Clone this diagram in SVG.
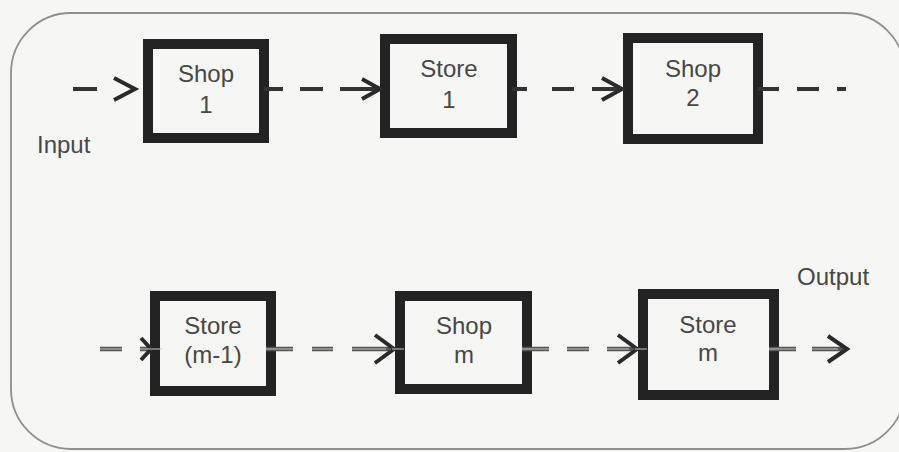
<svg xmlns="http://www.w3.org/2000/svg" width="899" height="452" viewBox="0 0 899 452">
<style>
.box{fill:none;stroke:#232323;stroke-width:10}
.t{font-family:"Liberation Sans",Arial,sans-serif;font-size:24px;fill:#474747;text-anchor:middle}
.lbl{font-family:"Liberation Sans",Arial,sans-serif;font-size:24px;fill:#474747}
.c{fill:none;stroke:#333;stroke-width:4}
.c2{fill:none;stroke:#555;stroke-width:4.5}
.hl{fill:none;stroke:#c8c8c8;stroke-width:1.1}
.ah{fill:none;stroke:#2a2a2a;stroke-width:4;stroke-linejoin:miter;stroke-linecap:butt}
</style>
<rect width="899" height="452" fill="#f6f6f5"/>
<rect x="11" y="13" width="894" height="436" rx="60" ry="60" fill="none" stroke="#8f8f8f" stroke-width="1.8"/>
<g id="shop1"><rect class="box" x="148" y="44" width="116" height="94"/><text class="t" x="206" y="82">Shop</text><text class="t" x="206" y="113">1</text></g>
<g id="store1"><rect class="box" x="385" y="39" width="127" height="94"/><text class="t" x="449" y="77">Store</text><text class="t" x="449" y="108">1</text></g>
<g id="shop2"><rect class="box" x="628" y="38" width="130" height="101"/><text class="t" x="693" y="77">Shop</text><text class="t" x="693" y="106">2</text></g>
<g id="storem1"><rect class="box" x="155" y="296" width="116" height="95"/><text class="t" x="213" y="334">Store</text><text class="t" x="213" y="363">(m-1)</text></g>
<g id="shopm"><rect class="box" x="400" y="296" width="127" height="93"/><text class="t" x="464" y="334">Shop</text><text class="t" x="464" y="363">m</text></g>
<g id="storem"><rect class="box" x="643" y="294" width="131" height="101"/><text class="t" x="708" y="333">Store</text><text class="t" x="708" y="361">m</text></g>
<g id="labels"><text class="lbl" x="37" y="153">Input</text><text class="lbl" x="797" y="285">Output</text></g>
<g id="connectors">
<path class="c" d="M73 89H97"/><path class="ah" d="M114 78L135 89L114 100"/>
<path class="c" d="M264 89H283M300 89H323M340 89H378"/><path class="ah" d="M362 79L380 89L362 99"/>
<path class="c" d="M512 89H527M552 89H574M592 89H620"/><path class="ah" d="M602 78L622 89L602 100"/>
<path class="c" d="M758 89H779M797 89H819M837 89H846"/>
<path class="c2" d="M100 349H122M140 349H152"/><path class="ah" d="M141 338L151 349L141 360"/>
<path class="hl" d="M100 349H122M140 349H162"/>
<path class="c2" d="M266 349H293M312 349H333M352 349H390"/><path class="ah" d="M375 335L394 349L375 363"/>
<path class="hl" d="M266 349H293M312 349H333M352 349H386M392 349H404"/>
<path class="c2" d="M522 349H549M567 349H589M607 349H633"/><path class="ah" d="M618 335L637 349L618 363"/>
<path class="hl" d="M522 349H549M567 349H589M607 349H629M635 349H647"/>
<path class="c2" d="M769 349H796M812 349H843"/><path class="ah" d="M828 336L847 349L828 362"/>
<path class="hl" d="M769 349H796M812 349H838"/>
</g>
</svg>
